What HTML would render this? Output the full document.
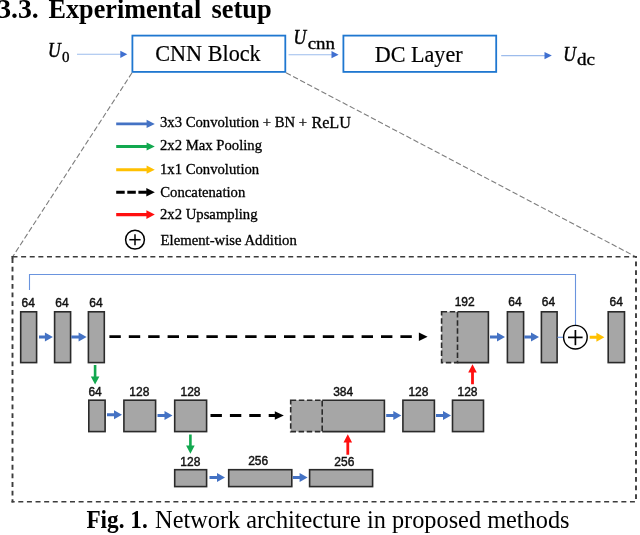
<!DOCTYPE html>
<html>
<head>
<meta charset="utf-8">
<title>Fig. 1</title>
<style>
html,body{margin:0;padding:0;background:#fff;}
body{width:640px;height:535px;overflow:hidden;position:relative;}
svg{position:absolute;left:0;top:0;display:block;will-change:transform;}
text{font-family:"Liberation Serif",serif;fill:#000;}
.sans{font-family:"Liberation Sans",sans-serif;font-size:12px;fill:#111;text-anchor:middle;stroke:#111;stroke-width:0.42;}
.leg{font-size:14.7px;stroke:#000;stroke-width:0.3;}
.U{font-size:22px;font-style:italic;stroke:#000;stroke-width:0.55;}
.sub{stroke:#000;stroke-width:0.35;}
.box{fill:#a6a6a6;stroke:#2a2a2a;stroke-width:1.6;}
.dbox{fill:#a6a6a6;stroke:#2a2a2a;stroke-width:1.6;stroke-dasharray:5.5 2.6;}
</style>
</head>
<body>
<svg width="640" height="535" viewBox="0 0 640 535">
<rect x="0" y="0" width="640" height="535" fill="#ffffff"/>

<!-- heading -->
<g font-size="27.5" font-weight="bold">
<text x="-2.8" y="18.1" textLength="41.6" lengthAdjust="spacingAndGlyphs">3.3.</text>
<text x="48.6" y="18.1" textLength="152.6" lengthAdjust="spacingAndGlyphs">Experimental</text>
<text x="211.5" y="18.1" textLength="60.3" lengthAdjust="spacingAndGlyphs">setup</text>
</g>

<!-- top row -->
<text class="U" x="48" y="57" textLength="12.7" lengthAdjust="spacingAndGlyphs">U</text>
<text class="sub" x="62" y="62.2" font-size="15">0</text>
<line x1="77" y1="54.3" x2="122" y2="54.3" stroke="#9dbcec" stroke-width="1.1"/>
<polygon points="120.3,50.7 127.3,54.3 120.3,57.9" fill="#3f6fd0"/>

<rect x="132.4" y="35.6" width="152.9" height="36.3" fill="#fff" stroke="#1f77d0" stroke-width="1.8"/>
<text x="155.3" y="61.2" font-size="23.8" stroke="#000" stroke-width="0.2" textLength="105.4" lengthAdjust="spacingAndGlyphs">CNN Block</text>

<text class="U" x="293.6" y="44.2" textLength="12.7" lengthAdjust="spacingAndGlyphs">U</text>
<text class="sub" x="307.7" y="48.9" font-size="17.5" textLength="27.3" lengthAdjust="spacingAndGlyphs">cnn</text>
<line x1="288.6" y1="54.7" x2="333" y2="54.7" stroke="#9dbcec" stroke-width="1.1"/>
<polygon points="331.5,51.1 338.6,54.7 331.5,58.3" fill="#3f6fd0"/>

<rect x="343.4" y="35.6" width="152.8" height="36.3" fill="#fff" stroke="#1f77d0" stroke-width="1.8"/>
<text x="374.8" y="62" font-size="23.8" stroke="#000" stroke-width="0.2" textLength="87.8" lengthAdjust="spacingAndGlyphs">DC Layer</text>

<line x1="501.2" y1="55.6" x2="546" y2="55.6" stroke="#9dbcec" stroke-width="1.1"/>
<polygon points="544.5,52 551.8,55.6 544.5,59.2" fill="#3f6fd0"/>
<text class="U" x="563.3" y="60.5" textLength="12.7" lengthAdjust="spacingAndGlyphs">U</text>
<text class="sub" x="577" y="65" font-size="17.5" textLength="18" lengthAdjust="spacingAndGlyphs">dc</text>

<!-- diagonals -->
<line x1="132" y1="72.8" x2="12.5" y2="257" stroke="#7d7d7d" stroke-width="1.1" stroke-dasharray="5.5 2.5"/>
<line x1="286" y1="72.8" x2="636.2" y2="257" stroke="#7d7d7d" stroke-width="1.1" stroke-dasharray="5.5 2.5"/>

<!-- legend -->
<path d="M116.20 122.45H146.60V119.80L154.80 123.90L146.60 128.00V125.35H116.20Z" fill="#4472c4"/>
<text class="leg" x="160" y="127.2">3x3 Convolution + BN + </text>
<text x="311.4" y="128" font-size="16.2" stroke="#000" stroke-width="0.3">ReLU</text>
<path d="M116.20 145.05H146.60V142.40L154.80 146.50L146.60 150.60V147.95H116.20Z" fill="#12a84f"/>
<text class="leg" x="160" y="150.4">2x2 Max Pooling</text>
<path d="M116.20 168.25H146.60V165.60L154.80 169.70L146.60 173.80V171.15H116.20Z" fill="#ffc000"/>
<text class="leg" x="160" y="173.7">1x1 Convolution</text>
<line x1="116.2" y1="192.3" x2="148" y2="192.3" stroke="#000" stroke-width="3" stroke-dasharray="8.5 2.6"/>
<polygon points="146.3,188.1 154.8,192.3 146.3,196.5" fill="#000"/>
<text class="leg" x="160.3" y="197" textLength="85" lengthAdjust="spacingAndGlyphs">Concatenation</text>
<path d="M116.20 213.05H146.40V210.30L154.80 214.60L146.40 218.90V216.15H116.20Z" fill="#ff0f0f"/>
<text class="leg" x="160" y="218.7">2x2 Upsampling</text>
<circle cx="135" cy="239.7" r="9.4" fill="#fff" stroke="#000" stroke-width="1.5"/>
<line x1="129.3" y1="239.7" x2="140.6" y2="239.7" stroke="#000" stroke-width="1.5"/>
<line x1="135" y1="234.2" x2="135" y2="245.2" stroke="#000" stroke-width="1.5"/>
<text class="leg" x="160.6" y="244.5" textLength="136.2" lengthAdjust="spacingAndGlyphs">Element-wise Addition</text>

<!-- outer dashed rect -->
<g fill="none" stroke="#3c3c3c">
<line x1="11.6" y1="256.8" x2="637" y2="256.8" stroke-width="1.6" stroke-dasharray="5 3.615" stroke-dashoffset="-0.9"/>
<line x1="11.6" y1="256.8" x2="13" y2="256.8" stroke-width="1.6"/>
<line x1="11.5" y1="501.7" x2="634.9" y2="501.7" stroke-width="1.6" stroke-dasharray="5 3.615" stroke-dashoffset="1.815"/>
<line x1="12.5" y1="256" x2="12.5" y2="502.4" stroke-width="1.9" stroke-dasharray="4.8 3.815" stroke-dashoffset="-2.1"/>
<line x1="12.5" y1="256" x2="12.5" y2="258.5" stroke-width="1.9"/>
<line x1="636" y1="256" x2="636" y2="499.4" stroke-width="1.9" stroke-dasharray="4.8 3.815" stroke-dashoffset="3.05"/>
</g>

<!-- skip connection -->
<polyline points="29.5,290 29.5,274.5 575.5,274.5 575.5,325" fill="none" stroke="#6a94de" stroke-width="1.1"/>

<!-- row 1 -->
<rect class="box" x="20.70" y="311.80" width="15.90" height="50.80"/>
<rect class="box" x="54.60" y="311.80" width="16.00" height="50.80"/>
<rect class="box" x="88.40" y="311.80" width="15.90" height="50.80"/>
<text class="sans" x="28.20" y="307.00">64</text>
<text class="sans" x="62.00" y="307.00">64</text>
<text class="sans" x="96.00" y="307.00">64</text>
<path d="M39.00 335.50H44.90V332.50L52.90 337.00L44.90 341.50V338.50H39.00Z" fill="#4472c4"/>
<path d="M71.30 335.50H78.60V332.50L86.60 337.00L78.60 341.50V338.50H71.30Z" fill="#4472c4"/>
<line x1="109.4" y1="336.7" x2="412" y2="336.7" stroke="#000" stroke-width="2.8" stroke-dasharray="11.4 8"/>
<polygon points="418.9,332.4 427.6,336.7 418.9,341" fill="#000"/>
<rect x="441.60" y="311.80" width="46.80" height="50.80" fill="#a6a6a6"/><path class="box" style="fill:none" d="M457.50 311.80H488.40V362.60H457.50"/><rect class="dbox" style="fill:none" x="441.60" y="311.80" width="15.90" height="50.80"/>
<text class="sans" x="464.70" y="305.90">192</text>
<rect class="box" x="507.40" y="311.80" width="16.20" height="50.80"/>
<rect class="box" x="541.40" y="311.80" width="15.70" height="50.80"/>
<rect class="box" x="608.20" y="311.80" width="16.30" height="50.80"/>
<text class="sans" x="515.00" y="305.90">64</text>
<text class="sans" x="548.50" y="305.90">64</text>
<text class="sans" x="616.20" y="305.90">64</text>
<path d="M490.00 335.50H497.00V332.50L505.00 337.00L497.00 341.50V338.50H490.00Z" fill="#4472c4"/>
<path d="M524.30 335.50H531.00V332.50L539.00 337.00L531.00 341.50V338.50H524.30Z" fill="#4472c4"/>
<line x1="557.5" y1="337.3" x2="563.5" y2="337.3" stroke="#6a94de" stroke-width="1.2"/>
<circle cx="575.4" cy="337.2" r="11.8" fill="#fff" stroke="#000" stroke-width="1.4"/>
<line x1="568" y1="337.4" x2="582.6" y2="337.4" stroke="#000" stroke-width="1.7"/>
<line x1="575.4" y1="330" x2="575.4" y2="345.2" stroke="#000" stroke-width="1.7"/>
<path d="M589.70 335.70H596.40V332.70L604.40 337.20L596.40 341.70V338.70H589.70Z" fill="#ffc000"/>
<path d="M93.80 365.00V376.40H90.80L95.10 384.60L99.40 376.40H96.40V365.00Z" fill="#12a84f"/>
<path d="M189.10 434.50V445.60H186.10L190.40 453.80L194.70 445.60H191.70V434.50Z" fill="#12a84f"/>
<path d="M471.10 384.30V372.50H468.20L472.50 364.30L476.80 372.50H473.90V384.30Z" fill="#ff0f0f"/>
<path d="M346.40 454.80V442.60H343.50L347.80 434.20L352.10 442.60H349.20V454.80Z" fill="#ff0f0f"/>
<!-- row 2 -->
<rect class="box" x="88.80" y="400.20" width="16.30" height="31.40"/>
<rect class="box" x="123.90" y="400.20" width="31.70" height="31.40"/>
<rect class="box" x="174.70" y="400.20" width="31.90" height="31.40"/>
<text class="sans" x="95.10" y="395.50">64</text>
<text class="sans" x="139.30" y="395.50">128</text>
<text class="sans" x="190.50" y="395.50">128</text>
<path d="M107.00 413.30H114.00V410.30L122.00 414.80L114.00 419.30V416.30H107.00Z" fill="#4472c4"/>
<path d="M157.50 414.10H164.50V411.10L172.50 415.60L164.50 420.10V417.10H157.50Z" fill="#4472c4"/>
<line x1="210.5" y1="415.5" x2="277" y2="415.5" stroke="#000" stroke-width="2.8" stroke-dasharray="11.4 8"/>
<polygon points="274.8,411.2 283.8,415.5 274.8,419.8" fill="#000"/>
<rect x="290.70" y="400.20" width="93.70" height="31.40" fill="#a6a6a6"/><path class="box" style="fill:none" d="M322.20 400.20H384.40V431.60H322.20"/><rect class="dbox" style="fill:none" x="290.70" y="400.20" width="31.50" height="31.40"/>
<text class="sans" x="343.20" y="395.50">384</text>
<rect class="box" x="402.90" y="400.20" width="31.50" height="31.40"/>
<rect class="box" x="452.50" y="400.20" width="31.00" height="31.40"/>
<text class="sans" x="418.40" y="395.50">128</text>
<text class="sans" x="467.50" y="395.50">128</text>
<path d="M386.20 414.10H393.30V411.10L401.30 415.60L393.30 420.10V417.10H386.20Z" fill="#4472c4"/>
<path d="M436.00 414.10H443.00V411.10L451.00 415.60L443.00 420.10V417.10H436.00Z" fill="#4472c4"/>
<!-- row 3 -->
<rect class="box" x="174.70" y="469.70" width="31.90" height="16.90"/>
<rect class="box" x="228.70" y="469.70" width="63.10" height="16.90"/>
<rect class="box" x="309.60" y="469.70" width="63.00" height="16.90"/>
<text class="sans" x="190.30" y="465.70">128</text>
<text class="sans" x="258.20" y="465.00">256</text>
<text class="sans" x="344.30" y="465.70">256</text>
<path d="M209.50 476.00H217.00V473.00L225.00 477.50L217.00 482.00V479.00H209.50Z" fill="#4472c4"/>
<path d="M292.80 476.00H299.60V473.00L307.60 477.50L299.60 482.00V479.00H292.80Z" fill="#4472c4"/>
<!-- caption -->
<text x="86.4" y="527.6" font-size="24.5" font-weight="bold" textLength="61.3" lengthAdjust="spacingAndGlyphs">Fig. 1.</text>
<text x="155.1" y="527.6" font-size="24.5" textLength="414.4" lengthAdjust="spacingAndGlyphs">Network architecture in proposed methods</text>
</svg>
</body>
</html>
